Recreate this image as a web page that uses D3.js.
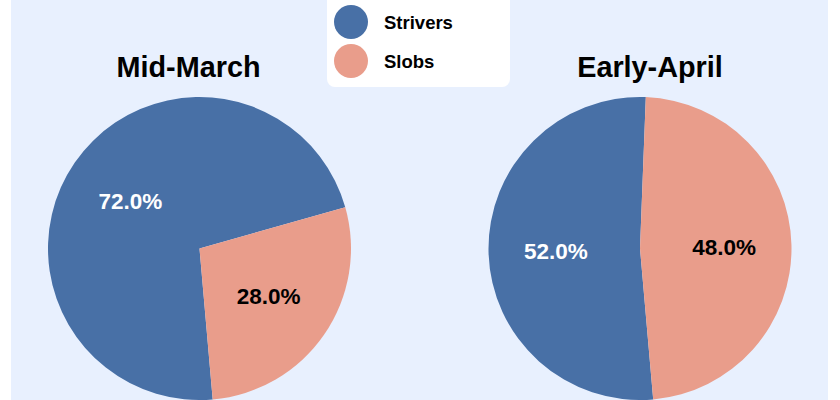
<!DOCTYPE html>
<html>
<head>
<meta charset="utf-8">
<script src="https://cdn.jsdelivr.net/npm/d3@7"></script>
<style>
  html, body { margin: 0; padding: 0; background: #fff; }
  svg { display: block; font-family: "Liberation Sans", Arial, sans-serif; }
</style>
</head>
<body>
<svg id="chart"></svg>
<script>
// data
var categories = ["Strivers", "Slobs"];
var periods = ["Mid-March", "Early-April"];
var midMarch = [72.0, 28.0];
var earlyApril = [52.0, 48.0];
var colors = ["#4870a6", "#e99d8b"];
var labelColors = ["#ffffff", "#000000"];

var width = 840,
  height = 400;

var svg = d3.select("#chart")
  .attr("width", width)
  .attr("height", height);

// light blue panel
svg.append("rect")
  .attr("x", 11)
  .attr("y", 0)
  .attr("width", 817)
  .attr("height", height)
  .attr("fill", "#e8f0fe");

var radius = 151.5;
var centers = [[199.5, 248.5], [640, 248.5]];

var pie = d3.pie()
  .sort(null)
  .startAngle(175 * Math.PI / 180)
  .endAngle(175 * Math.PI / 180 + 2 * Math.PI);

var arc = d3.arc()
  .innerRadius(0)
  .outerRadius(radius);

var labelArc = d3.arc()
  .innerRadius(radius * 0.555)
  .outerRadius(radius * 0.555);

var color = d3.scaleOrdinal()
  .domain(categories)
  .range(colors);

[midMarch, earlyApril].forEach(function (values, k) {
  var g = svg.append("g")
    .attr("transform", "translate(" + centers[k][0] + "," + centers[k][1] + ")");

  var data = pie(values);

  g.selectAll("path")
    .data(data)
    .enter().append("path")
    .attr("d", arc)
    .attr("fill", function (d, i) {
      return color(categories[i]);
    });

  g.selectAll("text.pct")
    .data(data)
    .enter().append("text")
    .attr("class", "pct")
    .attr("transform", function (d) {
      return "translate(" + labelArc.centroid(d) + ")";
    })
    .attr("text-anchor", "middle")
    .attr("dy", "0.36em")
    .attr("font-size", 22.5)
    .attr("font-weight", "bold")
    .attr("fill", function (d, i) {
      return labelColors[i];
    })
    .text(function (d) {
      return d.data.toFixed(1) + "%";
    });

  svg.append("text")
    .attr("x", k === 0 ? 188.5 : 650)
    .attr("y", 77)
    .attr("text-anchor", "middle")
    .attr("font-size", 28.8)
    .attr("font-weight", "bold")
    .attr("fill", "#000")
    .text(periods[k]);
});

// legend
var legend = svg.append("g");
legend.append("rect")
  .attr("x", 327)
  .attr("y", -12)
  .attr("width", 183)
  .attr("height", 99)
  .attr("rx", 8)
  .attr("fill", "#fff");

var items = legend.selectAll("g.item")
  .data(categories)
  .enter().append("g")
  .attr("class", "item")
  .attr("transform", function (d, i) {
    return "translate(351," + (22 + 39 * i) + ")";
  });

items.append("circle")
  .attr("r", 17)
  .attr("fill", function (d) { return color(d); });

items.append("text")
  .attr("x", 33)
  .attr("dy", "0.36em")
  .attr("font-size", 18.5)
  .attr("font-weight", "bold")
  .attr("fill", "#000")
  .text(function (d) { return d; });
</script>
</body>
</html>
